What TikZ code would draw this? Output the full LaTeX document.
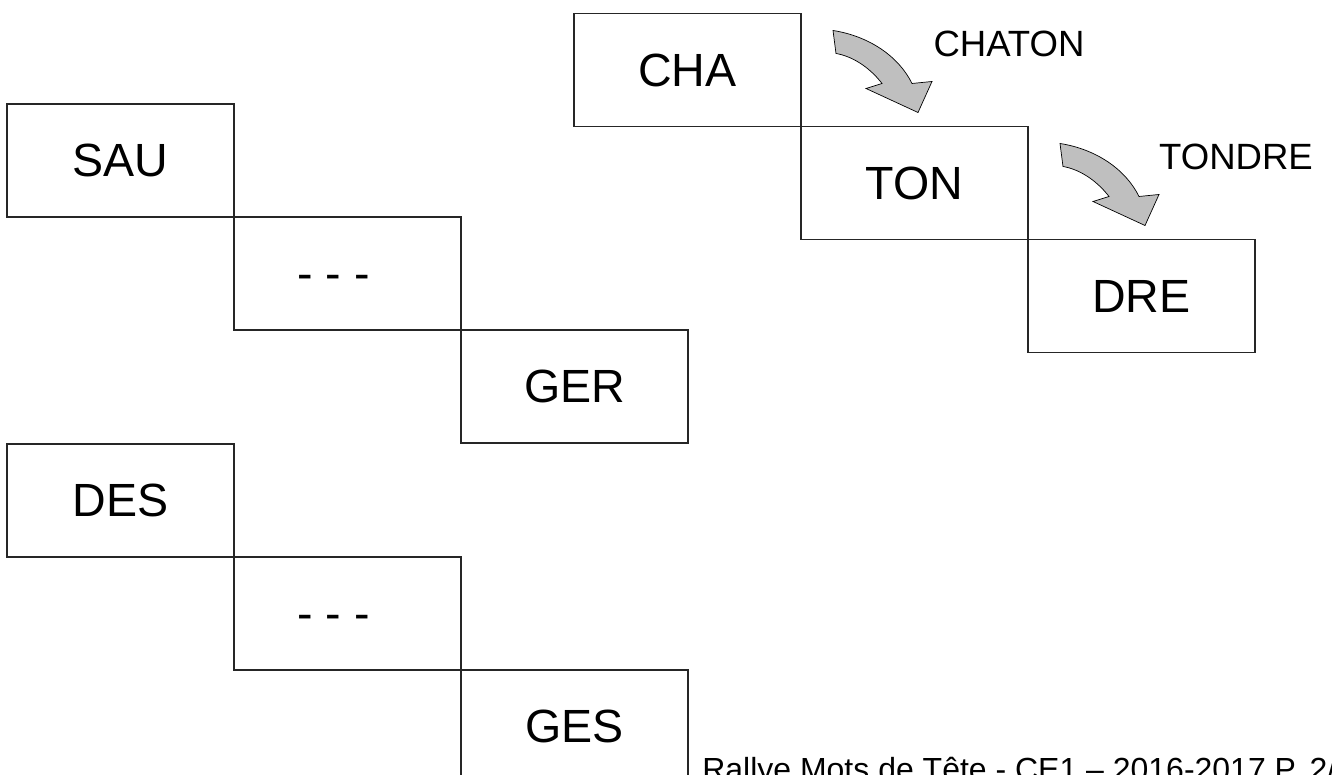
\documentclass[tikz,border=0pt]{standalone}
\usepackage{fontspec}
\setmainfont{Liberation Sans}
\usetikzlibrary{positioning}

\tikzset{
  box/.style={draw=black!85, line width=0.6pt, minimum width=4.54cm, minimum height=2.26cm,
    inner sep=0pt, outer sep=0pt, font=\fontsize{26.5}{30}\selectfont},
  gapbox/.style={box, text height=18.4pt, text depth=0pt},
  word/.style={inner sep=0pt, font=\fontsize{20.8}{24}\selectfont},
  bendarrow/.style={fill=black!25, draw=black, line width=0.4pt, line join=miter}
}

\begin{document}
\begin{tikzpicture}
	\useasboundingbox (0,0) rectangle (26.64,15.5);
	% first ladder
	\node[box] (sau) at (2.41,12.29) {SAU};
	\node[gapbox, below right=0pt and 0pt of sau] (gap1) {- - -\kern0.56cm};
	\node[box, below right=0pt and 0pt of gap1] (ger) {GER};
	% second ladder
	\node[box] (des) at (2.41,5.49) {DES};
	\node[gapbox, below right=0pt and 0pt of des] (gap2) {- - -\kern0.56cm};
	\node[box, below right=0pt and 0pt of gap2] (ges) {GES};
	% the example
	\node[box] (cha) at (13.75,14.1) {CHA};
	\node[box, below right=0pt and 0pt of cha] (ton) {TON};
	\node[box, below right=0pt and 0pt of ton] (dre) {DRE};
	% curved arrows and joined words
	\foreach \from/\name/\txt in {cha/chaton/CHATON, ton/tondre/TONDRE} {
		\draw[bendarrow, shift={(\from.north east)}]
			(0.64,-0.34) .. controls (1.35,-0.45) and (1.95,-0.85) .. (2.22,-1.40)
			-- (2.62,-1.36) -- (2.34,-1.98) -- (1.30,-1.50) -- (1.62,-1.40)
			.. controls (1.35,-1.05) and (1.0,-0.85) .. (0.70,-0.80) -- cycle;
		\node[word] (\name) at ([shift={(4.16,-0.6)}]\from.north east) {\txt};
	}
	\node[word, font=\fontsize{18.2}{22}\selectfont, anchor=base west] (footer) at (14.04,-0.12) {Rallye Mots de Tête - CE1 – 2016-2017 P. 2/};
\end{tikzpicture}
\end{document}
